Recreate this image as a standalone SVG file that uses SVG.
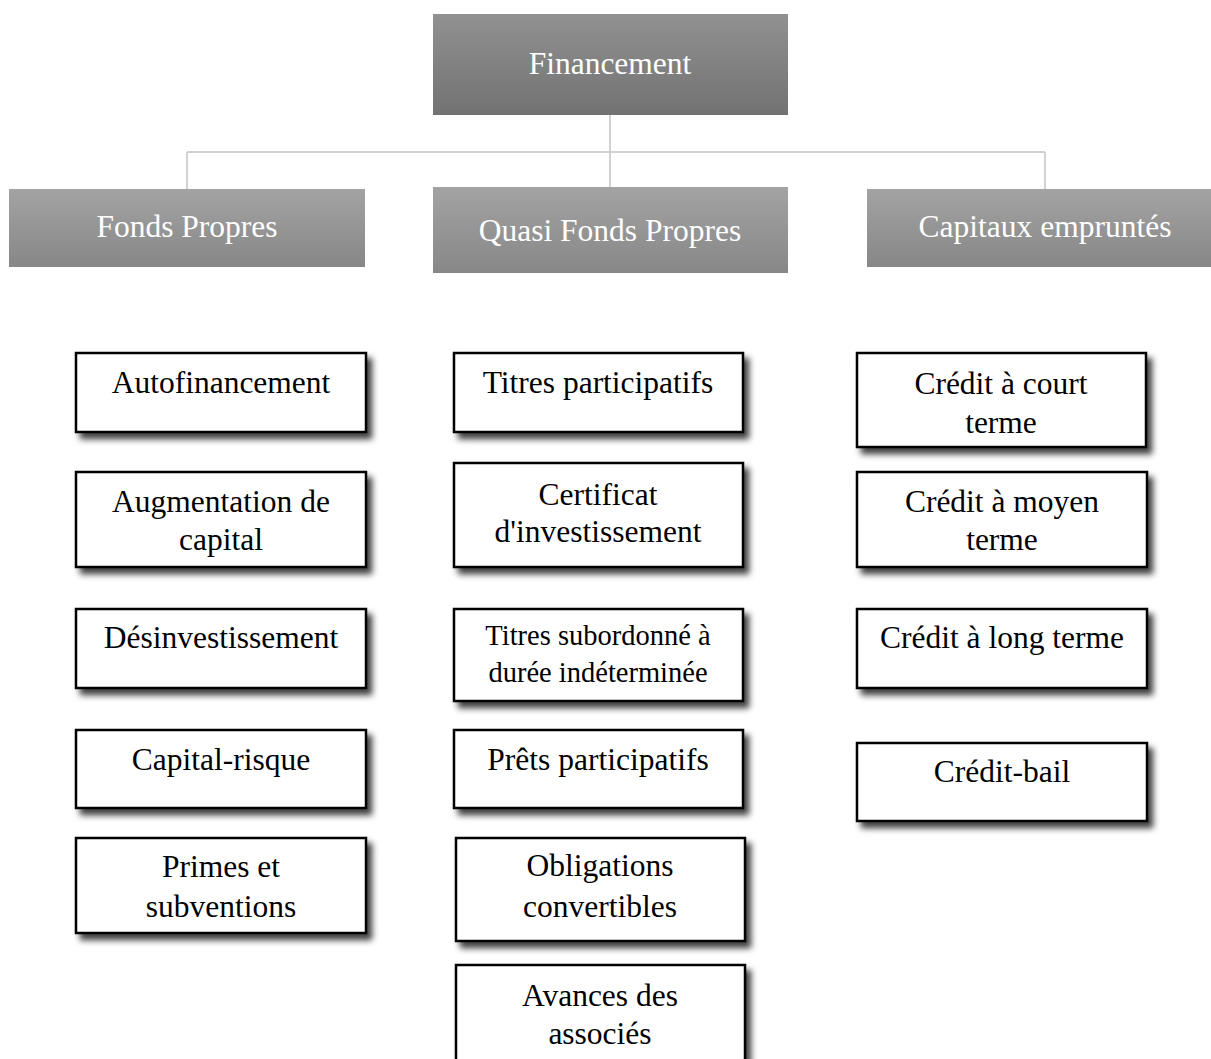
<svg xmlns="http://www.w3.org/2000/svg" width="1211" height="1059" viewBox="0 0 1211 1059">
  <style>
    text { font-family: "Liberation Serif", "Times New Roman", serif; text-anchor: middle; }
    .hd { fill: #ffffff; font-size: 31.5px; }
    .lb { fill: #000000; font-size: 31.5px; }
    .sm { fill: #000000; font-size: 28.5px; }
    .box { fill: #ffffff; stroke: #000000; stroke-width: 2.5; filter: url(#shadow); }
    .conn { stroke: #c4c4c4; stroke-width: 1.5; fill: none; }
  </style>
  <defs>
    <linearGradient id="gTop" x1="0" y1="0" x2="0" y2="1">
      <stop offset="0" stop-color="#919191"/>
      <stop offset="1" stop-color="#727272"/>
    </linearGradient>
    <linearGradient id="gMid" x1="0" y1="0" x2="0" y2="1">
      <stop offset="0" stop-color="#a3a3a3"/>
      <stop offset="1" stop-color="#878787"/>
    </linearGradient>
    <filter id="shadow" x="-10%" y="-20%" width="130%" height="150%">
      <feDropShadow dx="5" dy="6" stdDeviation="3" flood-color="#000000" flood-opacity="0.75"/>
    </filter>
  </defs>

  <!-- connectors -->
  <g id="connectors">
    <path class="conn" d="M610 115 V187 M187 152 H1045 M187 152 V189 M1045 152 V189"/>
  </g>

  <!-- header level -->
  <g id="financement">
    <rect x="433" y="14" width="355" height="101" fill="url(#gTop)"/>
    <text class="hd" x="610" y="74">Financement</text>
  </g>
  <g id="fonds-propres">
    <rect x="9" y="189" width="356" height="78" fill="url(#gMid)"/>
    <text class="hd" x="187" y="237">Fonds Propres</text>
  </g>
  <g id="quasi-fonds-propres">
    <rect x="433" y="187" width="355" height="86" fill="url(#gMid)"/>
    <text class="hd" x="610" y="241">Quasi Fonds Propres</text>
  </g>
  <g id="capitaux-empruntes">
    <rect x="867" y="189" width="344" height="78" fill="url(#gMid)"/>
    <text class="hd" x="1045" y="237">Capitaux empruntés</text>
  </g>

  <!-- Fonds Propres column -->
  <g id="autofinancement">
    <rect class="box" x="76" y="353" width="290" height="79"/>
    <text class="lb" x="221" y="393">Autofinancement</text>
  </g>
  <g id="augmentation-capital">
    <rect class="box" x="76" y="472" width="290" height="95"/>
    <text class="lb" x="221" y="512">Augmentation de</text>
    <text class="lb" x="221" y="550">capital</text>
  </g>
  <g id="desinvestissement">
    <rect class="box" x="76" y="609" width="290" height="79"/>
    <text class="lb" x="221" y="648">Désinvestissement</text>
  </g>
  <g id="capital-risque">
    <rect class="box" x="76" y="730" width="290" height="78"/>
    <text class="lb" x="221" y="770">Capital-risque</text>
  </g>
  <g id="primes-subventions">
    <rect class="box" x="76" y="838" width="290" height="95"/>
    <text class="lb" x="221" y="877">Primes et</text>
    <text class="lb" x="221" y="917">subventions</text>
  </g>

  <!-- Quasi Fonds Propres column -->
  <g id="titres-participatifs">
    <rect class="box" x="454" y="353" width="289" height="79"/>
    <text class="lb" x="598" y="393">Titres participatifs</text>
  </g>
  <g id="certificat-investissement">
    <rect class="box" x="454" y="463" width="289" height="104"/>
    <text class="lb" x="598" y="505">Certificat</text>
    <text class="lb" x="598" y="542">d'investissement</text>
  </g>
  <g id="titres-subordonnes">
    <rect class="box" x="454" y="609" width="289" height="92"/>
    <text class="sm" x="598" y="645">Titres subordonné à</text>
    <text class="sm" x="598" y="682">durée indéterminée</text>
  </g>
  <g id="prets-participatifs">
    <rect class="box" x="454" y="730" width="289" height="78"/>
    <text class="lb" x="598" y="770">Prêts participatifs</text>
  </g>
  <g id="obligations-convertibles">
    <rect class="box" x="456" y="838" width="289" height="103"/>
    <text class="lb" x="600" y="876">Obligations</text>
    <text class="lb" x="600" y="917">convertibles</text>
  </g>
  <g id="avances-associes">
    <rect class="box" x="456" y="965" width="289" height="110"/>
    <text class="lb" x="600" y="1006">Avances des</text>
    <text class="lb" x="600" y="1044">associés</text>
  </g>

  <!-- Capitaux empruntés column -->
  <g id="credit-court-terme">
    <rect class="box" x="857" y="353" width="289" height="94"/>
    <text class="lb" x="1001" y="394">Crédit à court</text>
    <text class="lb" x="1001" y="433">terme</text>
  </g>
  <g id="credit-moyen-terme">
    <rect class="box" x="857" y="472" width="290" height="95"/>
    <text class="lb" x="1002" y="512">Crédit à moyen</text>
    <text class="lb" x="1002" y="550">terme</text>
  </g>
  <g id="credit-long-terme">
    <rect class="box" x="857" y="609" width="290" height="79"/>
    <text class="lb" x="1002" y="648">Crédit à long terme</text>
  </g>
  <g id="credit-bail">
    <rect class="box" x="857" y="743" width="290" height="78"/>
    <text class="lb" x="1002" y="782">Crédit-bail</text>
  </g>
</svg>
